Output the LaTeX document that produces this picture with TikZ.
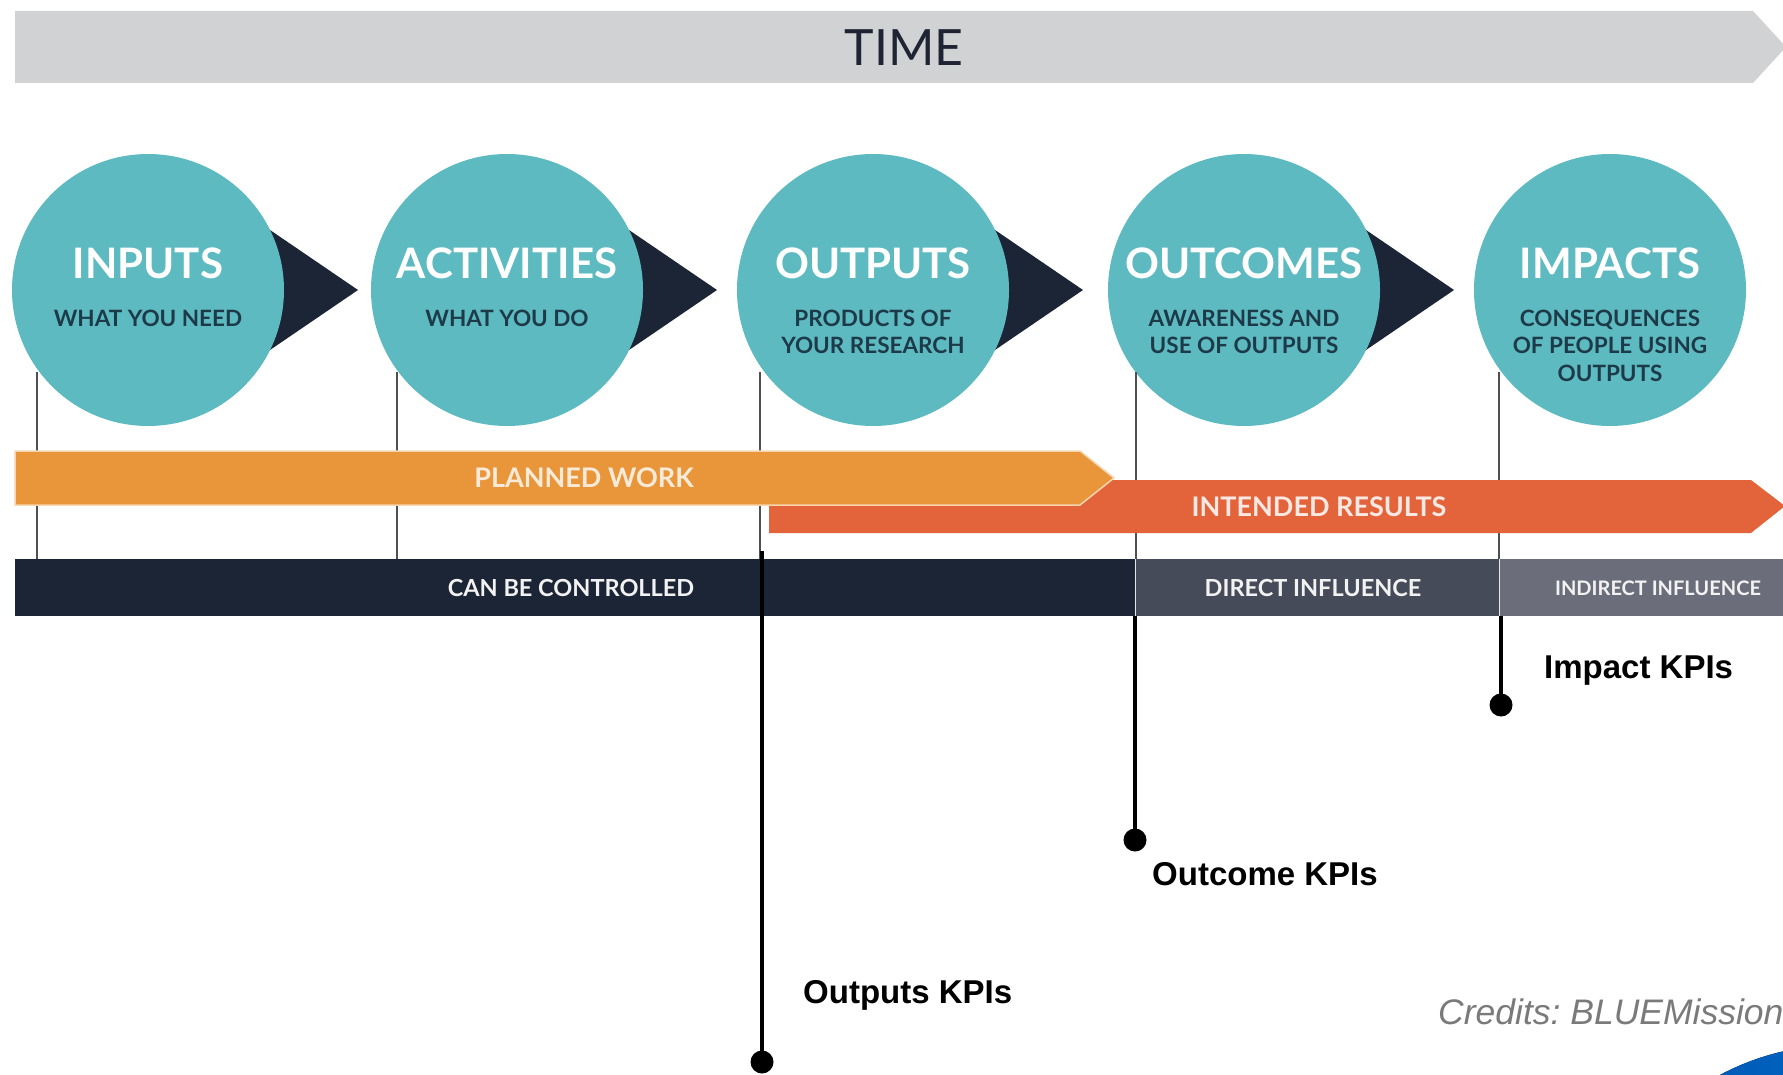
\documentclass[tikz,border=0pt]{standalone}
\usepackage{fontspec}
\setmainfont{Lato}
\newfontfamily\arialf{Liberation Sans}
\definecolor{timegray}{HTML}{D1D2D4}
\definecolor{timetext}{HTML}{1E2433}
\definecolor{tealc}{HTML}{5EBAC1}
\definecolor{navyc}{HTML}{1B2535}
\definecolor{subc}{HTML}{1D3A48}
\definecolor{orangec}{HTML}{E9963A}
\definecolor{redc}{HTML}{E3643B}
\definecolor{darkbar}{HTML}{1C2536}
\definecolor{midbar}{HTML}{464B59}
\definecolor{lightbar}{HTML}{6B6E7A}
\definecolor{linegray}{HTML}{505050}
\definecolor{credgray}{HTML}{7A7A7A}
\tikzset{
  circ/.style={circle, fill=tealc, minimum size=272pt, inner sep=0pt},
  ttl/.style={text=white, font=\bfseries\fontsize{42}{42}\selectfont, anchor=base, inner sep=0pt},
  sub/.style={text=subc, font=\bfseries\fontsize{22.5}{27.5}\selectfont, align=center, anchor=north, inner sep=0pt},
  tri/.style={fill=navyc},
  vline/.style={draw=linegray, line width=2pt},
  kpi/.style={draw=black, line width=3.5pt},
  kdot/.style={circle, fill=black, minimum size=23pt, inner sep=0pt},
  kpilab/.style={font=\arialf\bfseries\fontsize{33}{33}\selectfont, anchor=west, inner sep=0pt},
  bartxt/.style={font=\bfseries\fontsize{27}{27}\selectfont, inner sep=0pt},
  lowtxt/.style={text=white!90!gray, font=\bfseries\fontsize{23.5}{23.5}\selectfont, inner sep=0pt},
}
\begin{document}
\frenchspacing
\begin{tikzpicture}[x=1pt,y=-1pt]
\useasboundingbox (0,0) rectangle (1783,1075);
\fill[white] (0,0) rectangle (1783,1075);

% time bar
\fill[timegray] (15,11) -- (1753,11) -- (1786,47) -- (1753,83) -- (15,83) -- cycle;
\node[text=timetext, font=\fontsize{50}{50}\selectfont, inner sep=0pt] (time) at (904,48) {TIME};

% triangles
\foreach \c in {148,507,873,1244}
  \fill[tri] (\c+100,215) -- (\c+210,290) -- (\c+100,365) -- cycle;

% circles
\node[circ] (c1) at (148,290) {};
\node[circ] (c2) at (507,290) {};
\node[circ] (c3) at (873,290) {};
\node[circ] (c4) at (1244,290) {};
\node[circ] (c5) at (1610,290) {};

% vertical guide lines
\foreach \n/\x in {c1/37,c2/397,c3/760,c4/1136,c5/1499}
  \draw[vline] (\x,372) -- (\x,559);

% titles
\node[ttl] (t1) at (148,279) {INPUTS};
\node[ttl] (t2) at (507,279) {ACTIVITIES};
\node[ttl] (t3) at (873,279) {OUTPUTS};
\node[ttl] (t4) at (1244,279) {OUTCOMES};
\node[ttl] (t5) at (1610,279) {IMPACTS};

% subtitles
\node[sub] (s1) at (148,309.5) {WHAT YOU NEED};
\node[sub] (s2) at (507,309.5) {WHAT YOU DO};
\node[sub] (s3) at (873,309.5) {PRODUCTS OF\\YOUR RESEARCH};
\node[sub] (s4) at (1244,309.5) {AWARENESS AND\\USE OF OUTPUTS};
\node[sub] (s5) at (1610,309.5) {CONSEQUENCES\\OF PEOPLE USING\\OUTPUTS};

% intended results bar
\fill[redc] (769,480) -- (1751,480) -- (1785,506) -- (1751,533) -- (769,533) -- cycle;
% planned work bar
\filldraw[fill=orangec, draw=orangec!40!white, line width=1.5pt] (15,451) -- (1080,451) -- (1114,478) -- (1080,505) -- (15,505) -- cycle;
\node[bartxt, text=orangec!20!white] (pw) at (584,478) {PLANNED WORK};
\node[bartxt, text=redc!15!white] (ir) at (1319,507) {INTENDED RESULTS};

% bottom bar
\fill[darkbar] (15,559) rectangle (1135,616);
\fill[midbar] (1135,559) rectangle (1499,616);
\fill[lightbar] (1499,559) rectangle (1783,616);
\draw[white!80!gray, line width=1pt] (1135,559) -- (1135,616) (1499,559) -- (1499,616);
\node[lowtxt] (cbc) at (571,588) {CAN BE CONTROLLED};
\node[lowtxt] (di) at (1313,588) {DIRECT INFLUENCE};
\node[lowtxt, font=\bfseries\fontsize{20}{20}\selectfont] (ii) at (1658,588) {INDIRECT INFLUENCE};

% KPI connectors
\coordinate (k1top) at (762,551);
\coordinate (k2top) at (1135,616);
\coordinate (k3top) at (1501,616);
\node[kdot] (d1) at (762,1062) {};
\node[kdot] (d2) at (1135,840) {};
\node[kdot] (d3) at (1501,705) {};
\draw[kpi] (k1top) -- (d1.center);
\draw[kpi] (k2top) -- (d2.center);
\draw[kpi] (k3top) -- (d3.center);

\node[kpilab] (l1) at (803,995) {Outputs KPIs};
\node[kpilab] (l2) at (1152,874) {Outcome KPIs};
\node[kpilab] (l3) at (1544,671) {Impact KPIs};

% credits
\node[font=\arialf\itshape\fontsize{35.5}{35.5}\selectfont, text=credgray, anchor=west, inner sep=0pt] (cred) at (1438,1012) {Credits: BLUEMission};

% blue corner
\fill[left color=blue!55!cyan!70!black, right color=cyan!60!blue!80!black] (1840,1300) circle (255);
\end{tikzpicture}
\end{document}
